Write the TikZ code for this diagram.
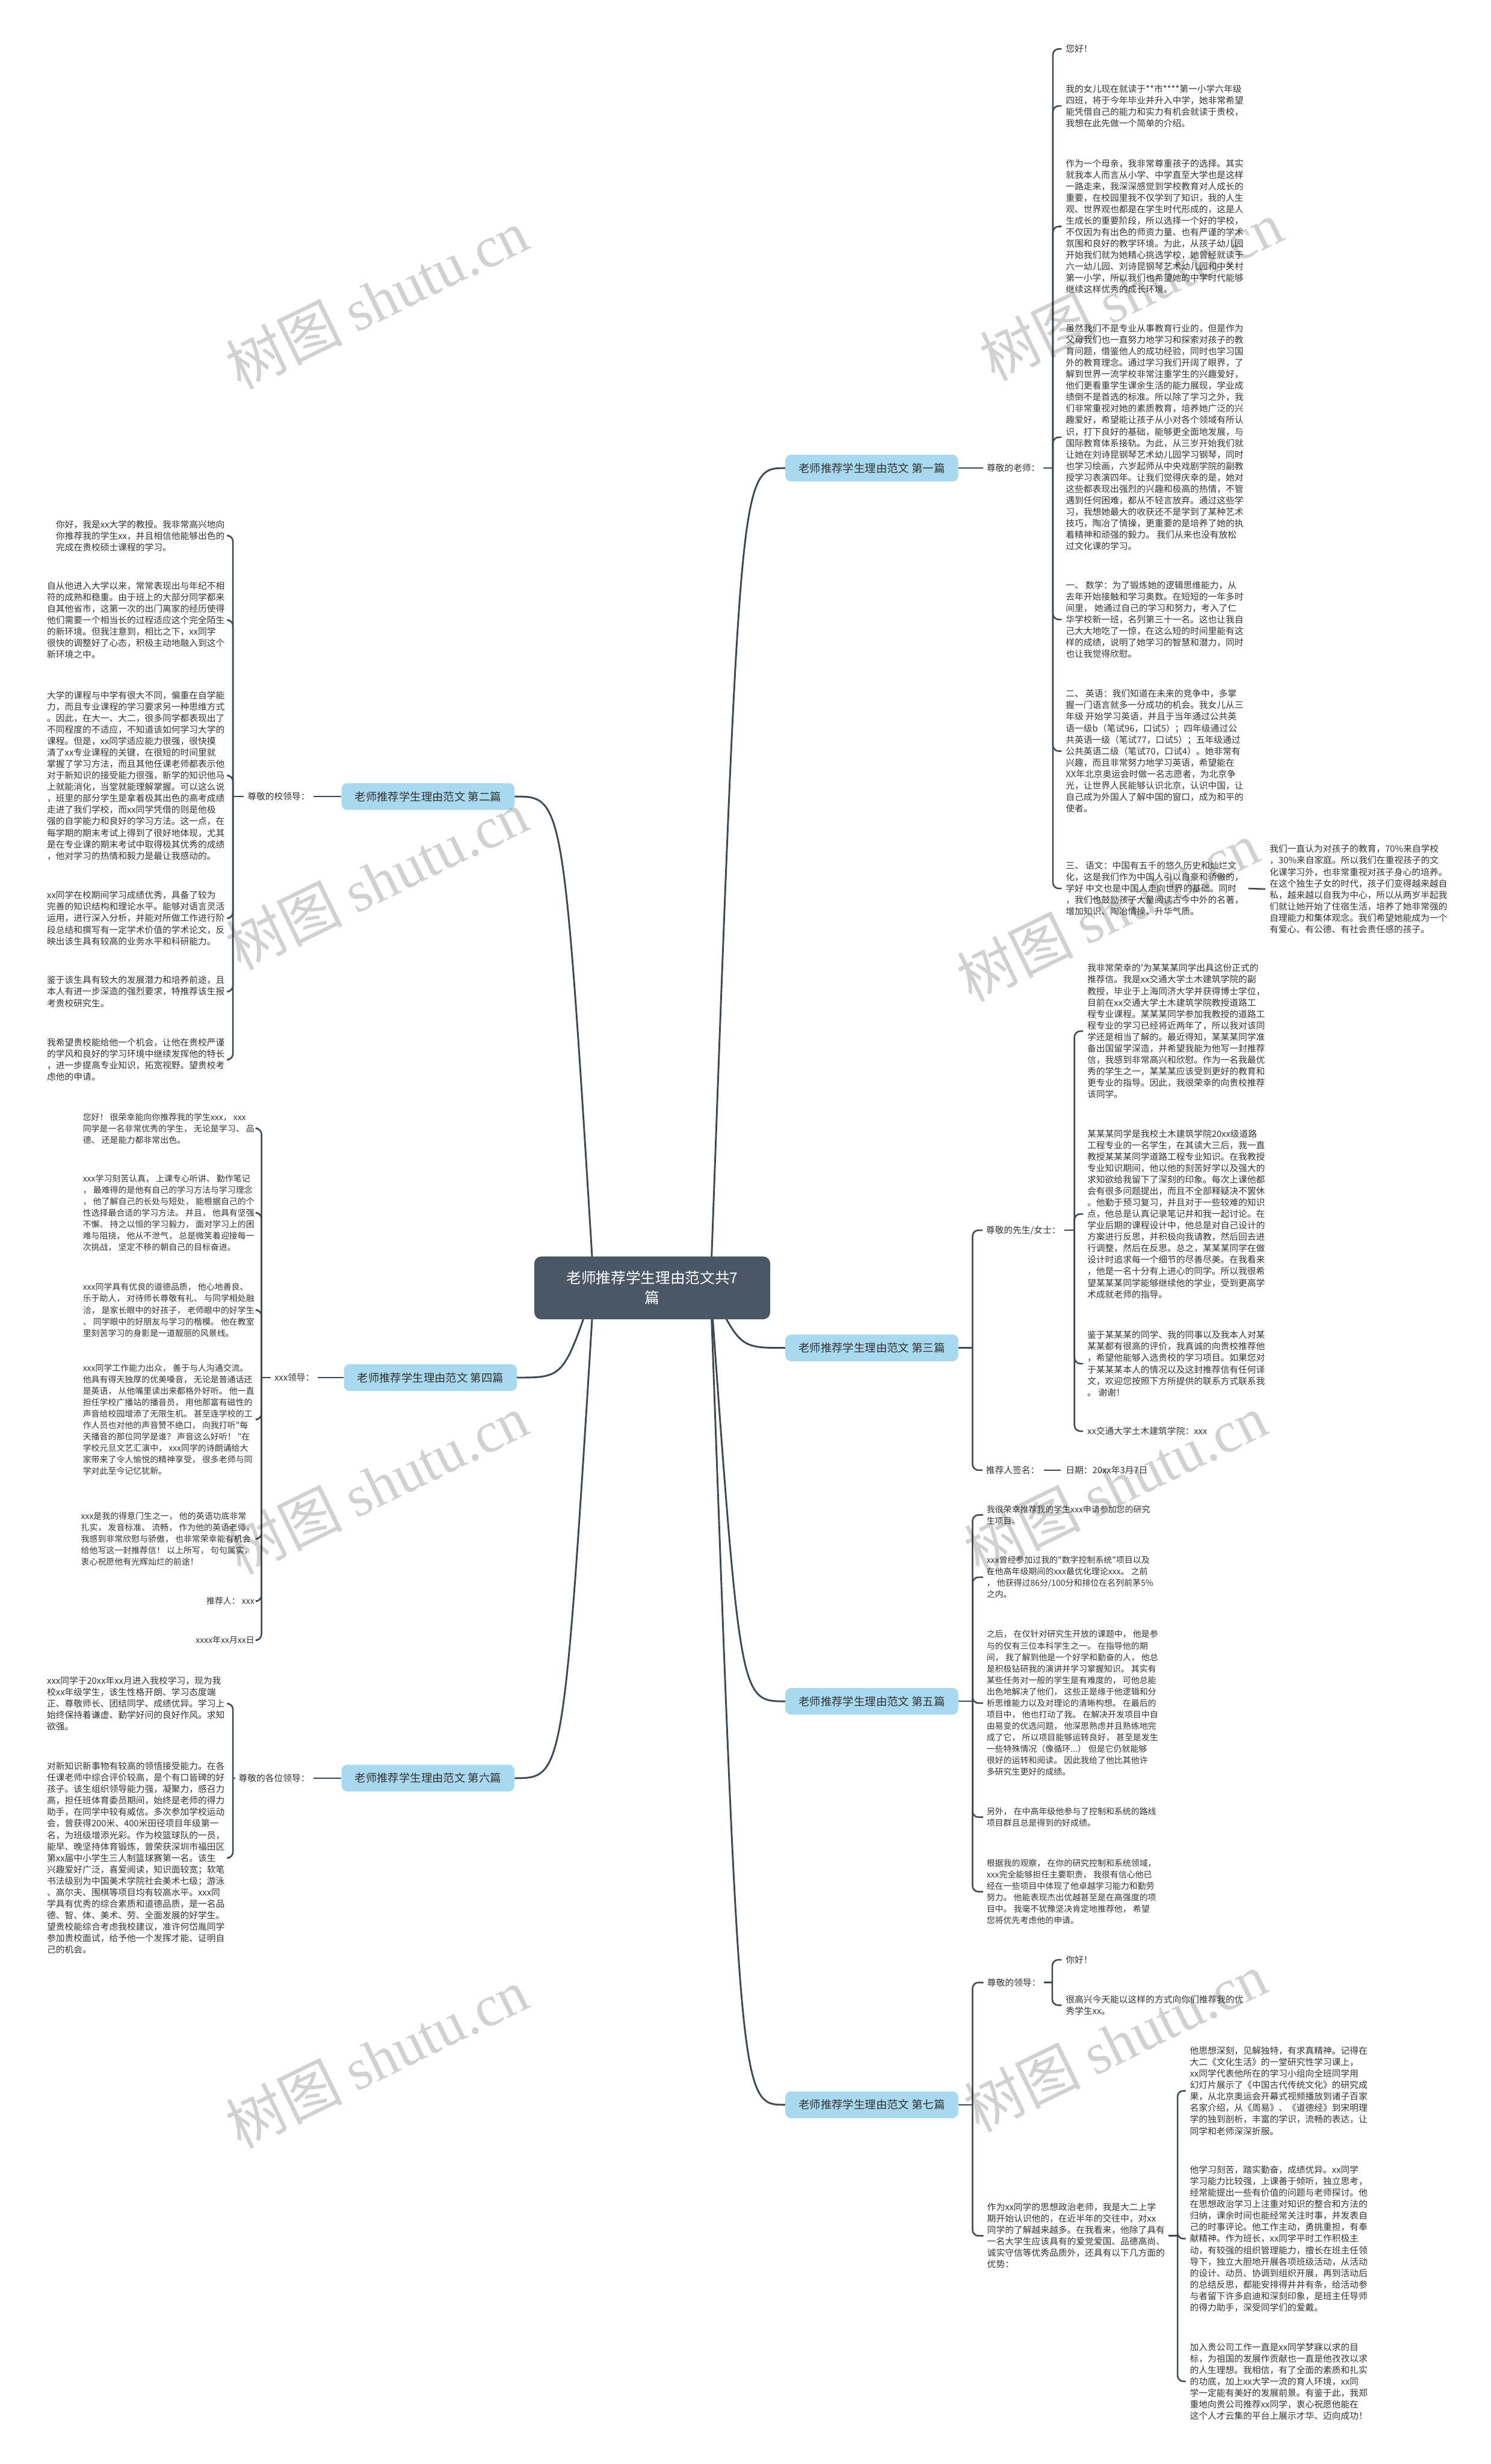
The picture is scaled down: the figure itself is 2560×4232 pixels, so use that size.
\documentclass[tikz,border=0pt]{standalone}
\usepackage{fontspec}
\newfontfamily\cjk{Noto Sans CJK SC}
\newfontfamily\wmserif{Liberation Serif}
\usetikzlibrary{backgrounds}
\definecolor{rootfill}{HTML}{4A5866}
\definecolor{topicfill}{HTML}{A9D9EE}
\definecolor{linkcol}{HTML}{3C4852}
\definecolor{textcol}{HTML}{333333}
\begin{document}
\begin{tikzpicture}[x=1pt,y=-1pt,
  rootbox/.style={fill=rootfill,text=white,rounded corners=12pt,minimum width=405pt,minimum height=108pt,align=center,font=\cjk\fontsize{25.5}{34}\selectfont},
  topic/.style={fill=topicfill,text=textcol,rounded corners=10pt,minimum width=297pt,minimum height=46pt,font=\cjk\fontsize{19}{22}\selectfont},
  txt/.style={text=textcol,align=left,inner sep=0pt,font=\cjk\fontsize{15.25}{19.7}\selectfont},
  wide/.style={txt,font=\cjk\fontsize{14.4}{19.7}\selectfont},
  link/.style={draw=linkcol,line width=2.6pt,rounded corners=10pt},
  branch/.style={draw=linkcol,line width=3pt},
  wmark/.style={rotate=26,text=black,opacity=.18,font=\cjk\fontsize{100}{100}\selectfont}]
\begin{scope}[on background layer]
\fill[white](0,0) rectangle (2560,4232);
\end{scope}
\useasboundingbox(0,0) rectangle (2560,4232);

\node[rootbox](root) at (1120,2212){老师推荐学生理由范文共7\\篇};
\coordinate(rootR) at (1220,2212);
\coordinate(rootL) at (1020,2212);

\node[topic](L1) at (1497,804){老师推荐学生理由范文 第一篇};
\node[topic](L2) at (735,1368){老师推荐学生理由范文 第二篇};
\node[topic](L3) at (1497,2315){老师推荐学生理由范文 第三篇};
\node[topic](L4) at (739,2366){老师推荐学生理由范文 第四篇};
\node[topic](L5) at (1497,2922){老师推荐学生理由范文 第五篇};
\node[topic](L6) at (735,3054){老师推荐学生理由范文 第六篇};
\node[topic](L7) at (1497,3615){老师推荐学生理由范文 第七篇};

\begin{scope}[on background layer]
\foreach \t in {L1,L3,L5,L7}
    \draw[branch](rootR) .. controls (1271,0 |- \t.west) .. (\t.west);
\foreach \t in {L2,L4,L6}
    \draw[branch](rootL) .. controls (968,0 |- \t.east) .. (\t.east);
\end{scope}

% 第一篇
\node[txt,anchor=west](a0) at (1694,804){尊敬的老师：};
\node[txt,anchor=west](a1) at (1830,84){您好！};
\node[txt,anchor=west](a2) at (1830,182){我的女儿现在就读于**市****第一小学六年级\\四班，将于今年毕业并升入中学，她非常希望\\能凭借自己的能力和实力有机会就读于贵校，\\我想在此先做一个简单的介绍。};
\node[txt,anchor=west](a3) at (1830,389){作为一个母亲，我非常尊重孩子的选择。其实\\就我本人而言从小学、中学直至大学也是这样\\一路走来，我深深感觉到学校教育对人成长的\\重要，在校园里我不仅学到了知识，我的人生\\观、世界观也都是在学生时代形成的，这是人\\生成长的重要阶段，所以选择一个好的学校，\\不仅因为有出色的师资力量、也有严谨的学术\\氛围和良好的教学环境。为此，从孩子幼儿园\\开始我们就为她精心挑选学校，她曾经就读于\\六一幼儿园、刘诗昆钢琴艺术幼儿园和中关村\\第一小学，所以我们也希望她的中学时代能够\\继续这样优秀的成长环境。};
\node[txt,anchor=west](a4) at (1830,751){虽然我们不是专业从事教育行业的，但是作为\\父母我们也一直努力地学习和探索对孩子的教\\育问题，借鉴他人的成功经验，同时也学习国\\外的教育理念。通过学习我们开阔了眼界，了\\解到世界一流学校非常注重学生的兴趣爱好，\\他们更看重学生课余生活的能力展现，学业成\\绩倒不是首选的标准。所以除了学习之外，我\\们非常重视对她的素质教育，培养她广泛的兴\\趣爱好，希望能让孩子从小对各个领域有所认\\识，打下良好的基础，能够更全面地发展，与\\国际教育体系接轨。为此，从三岁开始我们就\\让她在刘诗昆钢琴艺术幼儿园学习钢琴，同时\\也学习绘画，六岁起师从中央戏剧学院的副教\\授学习表演四年。让我们觉得庆幸的是，她对\\这些都表现出强烈的兴趣和极高的热情，不管\\遇到任何困难，都从不轻言放弃。通过这些学\\习，我想她最大的收获还不是学到了某种艺术\\技巧，陶冶了情操，更重要的是培养了她的执\\着精神和顽强的毅力。 我们从来也没有放松\\过文化课的学习。};
\node[txt,anchor=west](a5) at (1830,1064){一、 数学：为了锻炼她的逻辑思维能力，从\\去年开始接触和学习奥数。在短短的一年多时\\间里， 她通过自己的学习和努力，考入了仁\\华学校新一班，名列第三十一名。这也让我自\\己大大地吃了一惊，在这么短的时间里能有这\\样的成绩，说明了她学习的智慧和潜力，同时\\也让我觉得欣慰。};
\node[txt,anchor=west](a6) at (1830,1290){二、 英语：我们知道在未来的竞争中，多掌\\握一门语言就多一分成功的机会。我女儿从三\\年级 开始学习英语，并且于当年通过公共英\\语一级b（笔试96，口试5）；四年级通过公\\共英语一级（笔试77，口试5）；五年级通过\\公共英语二级（笔试70，口试4）。她非常有\\兴趣，而且非常努力地学习英语，希望能在\\XX年北京奥运会时做一名志愿者，为北京争\\光，让世界人民能够认识北京，认识中国，让\\自己成为外国人了解中国的窗口，成为和平的\\使者。};
\node[txt,anchor=west](a7) at (1830,1526){三、 语文：中国有五千的悠久历史和灿烂文\\化，这是我们作为中国人引以自豪和骄傲的，\\学好 中文也是中国人走向世界的基础。同时\\，我们也鼓励孩子大量阅读古今中外的名著，\\增加知识、陶冶情操、升华气质。};
\node[txt,anchor=west](a8) at (2180,1527){我们一直认为对孩子的教育，70\%来自学校\\，30\%来自家庭。所以我们在重视孩子的文\\化课学习外，也非常重视对孩子身心的培养。\\在这个独生子女的时代，孩子们变得越来越自\\私，越来越以自我为中心，所以从两岁半起我\\们就让她开始了住宿生活，培养了她非常强的\\自理能力和集体观念。我们希望她能成为一个\\有爱心、有公德、有社会责任感的孩子。};
\coordinate(a0j) at (1808,804);
\draw[link](L1.east)--([xshift=-6pt]a0.west);
\draw[link]([xshift=6pt]a0.east)--(a0j);
\foreach \n in {a1,a2,a3,a4,a5,a6,a7}
    \draw[link](a0j)|-([xshift=-7pt]\n.west);
\draw[link]([xshift=8pt]a7.east)--([xshift=-7pt]a8.west);

% 第二篇
\node[txt,anchor=east](b0) at (532,1368){尊敬的校领导：};
\node[txt,anchor=east](b1) at (386,920){你好，我是xx大学的教授。我非常高兴地向\\你推荐我的学生xx，并且相信他能够出色的\\完成在贵校硕士课程的学习。};
\node[txt,anchor=east](b2) at (386,1065){自从他进入大学以来，常常表现出与年纪不相\\符的成熟和稳重。由于班上的大部分同学都来\\自其他省市，这第一次的出门离家的经历使得\\他们需要一个相当长的过程适应这个完全陌生\\的新环境。但我注意到，相比之下，xx同学\\很快的调整好了心态，积极主动地融入到这个\\新环境之中。};
\node[txt,anchor=east](b3) at (386,1332){大学的课程与中学有很大不同，偏重在自学能\\力，而且专业课程的学习要求另一种思维方式\\。因此，在大一、大二，很多同学都表现出了\\不同程度的不适应，不知道该如何学习大学的\\课程。但是，xx同学适应能力很强，很快摸\\清了xx专业课程的关键，在很短的时间里就\\掌握了学习方法，而且其他任课老师都表示他\\对于新知识的接受能力很强，新学的知识他马\\上就能消化，当堂就能理解掌握。可以这么说\\，班里的部分学生是拿着极其出色的高考成绩\\走进了我们学校，而xx同学凭借的则是他极\\强的自学能力和良好的学习方法。这一点，在\\每学期的期末考试上得到了很好地体现，尤其\\是在专业课的期末考试中取得极其优秀的成绩\\，他对学习的热情和毅力是最让我感动的。};
\node[txt,anchor=east](b4) at (386,1577){xx同学在校期间学习成绩优秀，具备了较为\\完善的知识结构和理论水平。能够对语言灵活\\运用，进行深入分析，并能对所做工作进行阶\\段总结和撰写有一定学术价值的学术论文，反\\映出该生具有较高的业务水平和科研能力。};
\node[txt,anchor=east](b5) at (386,1703){鉴于该生具有较大的发展潜力和培养前途，且\\本人有进一步深造的强烈要求，特推荐该生报\\考贵校研究生。};
\node[txt,anchor=east](b6) at (386,1820){我希望贵校能给他一个机会，让他在贵校严谨\\的学风和良好的学习环境中继续发挥他的特长\\，进一步提高专业知识，拓宽视野。望贵校考\\虑他的申请。};
\coordinate(b0j) at (400,1368);
\draw[link](L2.west)--([xshift=6pt]b0.east);
\draw[link]([xshift=-6pt]b0.west)--(b0j);
\foreach \n in {b1,b2,b3,b4,b5,b6}
    \draw[link](b0j)|-([xshift=7pt]\n.east);

% 第三篇
\node[txt,anchor=west](c0) at (1693,2113){尊敬的先生/女士：};
\node[txt,anchor=west](c1) at (1867,1771){我非常荣幸的'为某某某同学出具这份正式的\\推荐信。我是xx交通大学土木建筑学院的副\\教授，毕业于上海同济大学并获得博士学位，\\目前在xx交通大学土木建筑学院教授道路工\\程专业课程。某某某同学参加我教授的道路工\\程专业的学习已经将近两年了，所以我对该同\\学还是相当了解的。最近得知，某某某同学准\\备出国留学深造，并希望我能为他写一封推荐\\信，我感到非常高兴和欣慰。作为一名我最优\\秀的学生之一，某某某应该受到更好的教育和\\更专业的指导。因此，我很荣幸的向贵校推荐\\该同学。};
\node[txt,anchor=west](c2) at (1867,2085){某某某同学是我校土木建筑学院20xx级道路\\工程专业的一名学生，在其读大三后，我一直\\教授某某某同学道路工程专业知识。在我教授\\专业知识期间，他以他的刻苦好学以及强大的\\求知欲给我留下了深刻的印象。每次上课他都\\会有很多问题提出，而且不全部释疑决不罢休\\。他勤于预习复习，并且对于一些较难的知识\\点，他总是认真记录笔记并和我一起讨论。在\\学业后期的课程设计中，他总是对自己设计的\\方案进行反思，并积极向我请教，然后回去进\\行调整，然后在反思。总之，某某某同学在做\\设计时追求每一个细节的尽善尽美。在我看来\\，他是一名十分有上进心的同学。所以我很希\\望某某某同学能够继续他的学业，受到更高学\\术成就老师的指导。};
\node[txt,anchor=west](c3) at (1867,2342){鉴于某某某的同学、我的同事以及我本人对某\\某某都有很高的评价，我真诚的向贵校推荐他\\，希望他能够入选贵校的学习项目。如果您对\\于某某某本人的情况以及这封推荐信有任何译\\文，欢迎您按照下方所提供的联系方式联系我\\。 谢谢！};
\node[txt,anchor=west](c4) at (1867,2458){xx交通大学土木建筑学院：xxx};
\node[txt,anchor=west](c5) at (1693,2525){推荐人签名：};
\node[txt,anchor=west](c6) at (1830,2525){日期：20xx年3月7日};
\coordinate(L3j) at (1670,2315);
\coordinate(c0j) at (1845,2113);
\draw[link](L3.east)--(L3j);
\foreach \n in {c0,c5}
    \draw[link](L3j)|-([xshift=-6pt]\n.west);
\draw[link]([xshift=6pt]c0.east)--(c0j);
\foreach \n in {c1,c2,c3,c4}
    \draw[link](c0j)|-([xshift=-7pt]\n.west);
\draw[link]([xshift=8pt]c5.east)--([xshift=-8pt]c6.west);

% 第四篇
\node[txt,anchor=east](d0) at (540,2366){xxx领导：};
\node[wide,anchor=east](d1) at (437,1938){您好！ 很荣幸能向你推荐我的学生xxx， xxx\\同学是一名非常优秀的学生， 无论是学习、 品\\德、 还是能力都非常出色。};
\node[wide,anchor=east](d2) at (437,2083){xxx学习刻苦认真， 上课专心听讲、 勤作笔记\\， 最难得的是他有自己的学习方法与学习理念\\， 他了解自己的长处与短处， 能根据自己的个\\性选择最合适的学习方法。 并且， 他具有坚强\\不懈、 持之以恒的学习毅力， 面对学习上的困\\难与阻挠， 他从不泄气， 总是微笑着迎接每一\\次挑战， 坚定不移的朝自己的目标奋进。};
\node[wide,anchor=east](d3) at (437,2250){xxx同学具有优良的道德品质， 他心地善良、\\乐于助人， 对待师长尊敬有礼、 与同学相处融\\洽， 是家长眼中的好孩子， 老师眼中的好学生\\、 同学眼中的好朋友与学习的楷模。 他在教室\\里刻苦学习的身影是一道靓丽的风景线。};
\node[wide,anchor=east](d4) at (437,2438){xxx同学工作能力出众， 善于与人沟通交流。\\他具有得天独厚的优美嗓音， 无论是普通话还\\是英语， 从他嘴里读出来都格外好听。 他一直\\担任学校广播站的播音员， 用他那富有磁性的\\声音给校园增添了无限生机。 甚至连学校的工\\作人员也对他的声音赞不绝口， 向我打听"每\\天播音的那位同学是谁？ 声音这么好听！ "在\\学校元旦文艺汇演中， xxx同学的诗朗诵给大\\家带来了令人愉悦的精神享受， 很多老师与同\\学对此至今记忆犹新。};
\node[wide,anchor=east](d5) at (437,2643){xxx是我的得意门生之一， 他的英语功底非常\\扎实， 发音标准、 流畅， 作为他的英语老师，\\我感到非常欣慰与骄傲， 也非常荣幸能有机会\\给他写这一封推荐信！ 以上所写， 句句属实，\\衷心祝愿他有光辉灿烂的前途！};
\node[wide,anchor=east](d6) at (437,2750){推荐人： xxx};
\node[wide,anchor=east](d7) at (437,2817){xxxx年xx月xx日};
\coordinate(d0j) at (449,2366);
\draw[link](L4.west)--([xshift=6pt]d0.east);
\draw[link]([xshift=-6pt]d0.west)--(d0j);
\foreach \n in {d1,d2,d3,d4,d5,d6,d7}
    \draw[link](d0j)|-([xshift=5pt]\n.east);

% 第五篇
\node[wide,anchor=west](e1) at (1694,2602){我很荣幸推荐我的学生xxx申请参加您的研究\\生项目。};
\node[wide,anchor=west](e2) at (1694,2709){xxx曾经参加过我的"数字控制系统"项目以及\\在他高年级期间的xxx最优化理论xxx。 之前\\， 他获得过86分/100分和排位在名列前茅5\%\\之内。};
\node[wide,anchor=west](e3) at (1694,2925){之后， 在仅针对研究生开放的课题中， 他是参\\与的仅有三位本科学生之一。 在指导他的期\\间， 我了解到他是一个好学和勤奋的人， 他总\\是积极钻研我的演讲并学习掌握知识。 其实有\\某些任务对一般的学生是有难度的， 可他总能\\出色地解决了他们， 这些正是缘于他逻辑和分\\析思维能力以及对理论的清晰构想。 在最后的\\项目中， 他也打动了我。 在解决开发项目中自\\由易变的优选问题， 他深思熟虑并且熟练地完\\成了它， 所以项目能够运转良好， 甚至是发生\\一些特殊情况（像循环...） 但是它仍就能够\\很好的运转和阅读。 因此我给了他比其他许\\多研究生更好的成绩。};
\node[wide,anchor=west](e4) at (1694,3121){另外， 在中高年级他参与了控制和系统的路线\\项目群且总是得到的好成绩。};
\node[wide,anchor=west](e5) at (1694,3249){根据我的观察， 在你的研究控制和系统领域，\\xxx完全能够担任主要职责， 我很有信心他已\\经在一些项目中体现了他卓越学习能力和勤劳\\努力。 他能表现杰出优越甚至是在高强度的项\\目中。 我毫不犹豫坚决肯定地推荐他， 希望\\您将优先考虑他的申请。};
\coordinate(L5j) at (1670,2922);
\draw[link](L5.east)--(L5j);
\foreach \n in {e1,e2,e3,e4,e5}
    \draw[link](L5j)|-([xshift=-6pt]\n.west);

% 第六篇
\node[txt,anchor=east](f0) at (532,3054){尊敬的各位领导：};
\node[txt,anchor=east](f1) at (386,2926){xxx同学于20xx年xx月进入我校学习，现为我\\校xx年级学生，该生性格开朗、学习态度端\\正、尊敬师长、团结同学、成绩优异。学习上\\始终保持着谦虚、勤学好问的良好作风。求知\\欲强。};
\node[txt,anchor=east](f2) at (386,3191){对新知识新事物有较高的领悟接受能力。在各\\任课老师中综合评价较高，是个有口皆碑的好\\孩子。该生组织领导能力强，凝聚力，感召力\\高，担任班体育委员期间，始终是老师的得力\\助手，在同学中较有威信。多次参加学校运动\\会，曾获得200米、400米田径项目年级第一\\名，为班级增添光彩。作为校篮球队的一员，\\能早、晚坚持体育锻炼，曾荣获深圳市福田区\\第xx届中小学生三人制篮球赛第一名。该生\\兴趣爱好广泛，喜爱阅读，知识面较宽；软笔\\书法级别为中国美术学院社会美术七级；游泳\\、高尔夫、围棋等项目均有较高水平。xxx同\\学具有优秀的综合素质和道德品质，是一名品\\德、智、体、美术、劳、全面发展的好学生。\\望贵校能综合考虑我校建议，准许何岱胤同学\\参加贵校面试，给予他一个发挥才能、证明自\\己的机会。};
\coordinate(f0j) at (400,3054);
\draw[link](L6.west)--([xshift=6pt]f0.east);
\draw[link]([xshift=-6pt]f0.west)--(f0j);
\foreach \n in {f1,f2}
    \draw[link](f0j)|-([xshift=7pt]\n.east);

% 第七篇
\node[txt,anchor=west](g0) at (1695,3405){尊敬的领导：};
\node[txt,anchor=west](g1) at (1830,3366){你好！};
\node[txt,anchor=west](g2) at (1830,3444){很高兴今天能以这样的方式向你们推荐我的优\\秀学生xx。};
\node[txt,anchor=west](g3) at (1695,3840){作为xx同学的思想政治老师，我是大二上学\\期开始认识他的，在近半年的交往中，对xx\\同学的了解越来越多。在我看来，他除了具有\\一名大学生应该具有的爱党爱国、品德高尚、\\诚实守信等优秀品质外，还具有以下几方面的\\优势：};
\node[txt,anchor=west](g4) at (2043,3591){他思想深刻，见解独特，有求真精神。记得在\\大二《文化生活》的一堂研究性学习课上，\\xx同学代表他所在的学习小组向全班同学用\\幻灯片展示了《中国古代传统文化》的研究成\\果，从北京奥运会开幕式视频播放到诸子百家\\名家介绍，从《周易》、《道德经》到宋明理\\学的独到剖析，丰富的学识，流畅的表达，让\\同学和老师深深折服。};
\node[txt,anchor=west](g5) at (2043,3845){他学习刻苦，踏实勤奋，成绩优异。xx同学\\学习能力比较强，上课善于倾听，独立思考，\\经常能提出一些有价值的问题与老师探讨。他\\在思想政治学习上注重对知识的整合和方法的\\归纳，课余时间也能经常关注时事，并发表自\\己的时事评论。他工作主动，勇挑重担，有奉\\献精神。作为班长，xx同学平时工作积极主\\动，有较强的组织管理能力，擅长在班主任领\\导下，独立大胆地开展各项班级活动，从活动\\的设计、动员、协调到组织开展，再到活动后\\的总结反思，都能安排得井井有条，给活动参\\与者留下许多启迪和深刻印象，是班主任导师\\的得力助手，深受同学们的爱戴。};
\node[txt,anchor=west](g6) at (2043,4090){加入贵公司工作一直是xx同学梦寐以求的目\\标，为祖国的发展作贡献也一直是他孜孜以求\\的人生理想。我相信，有了全面的素质和扎实\\的功底，加上xx大学一流的育人环境，xx同\\学一定能有美好的发展前景。有鉴于此，我郑\\重地向贵公司推荐xx同学，衷心祝愿他能在\\这个人才云集的平台上展示才华、迈向成功！};
\coordinate(L7j) at (1670,3615);
\coordinate(g0j) at (1807,3405);
\coordinate(g3j) at (2022,3840);
\draw[link](L7.east)--(L7j);
\foreach \n in {g0,g3}
    \draw[link](L7j)|-([xshift=-6pt]\n.west);
\draw[link]([xshift=6pt]g0.east)--(g0j);
\foreach \n in {g1,g2}
    \draw[link](g0j)|-([xshift=-7pt]\n.west);
\draw[link]([xshift=6pt]g3.east)--(g3j);
\foreach \n in {g4,g5,g6}
    \draw[link](g3j)|-([xshift=-7pt]\n.west);

% watermarks
\foreach \x/\y in {647/513,1942/499,647/1511,1902/1565,647/2549,1915/2549,647/3534,1915/3507}
    \node[wmark] at (\x,\y){树图 {\wmserif shutu.cn}};
\end{tikzpicture}
\end{document}
